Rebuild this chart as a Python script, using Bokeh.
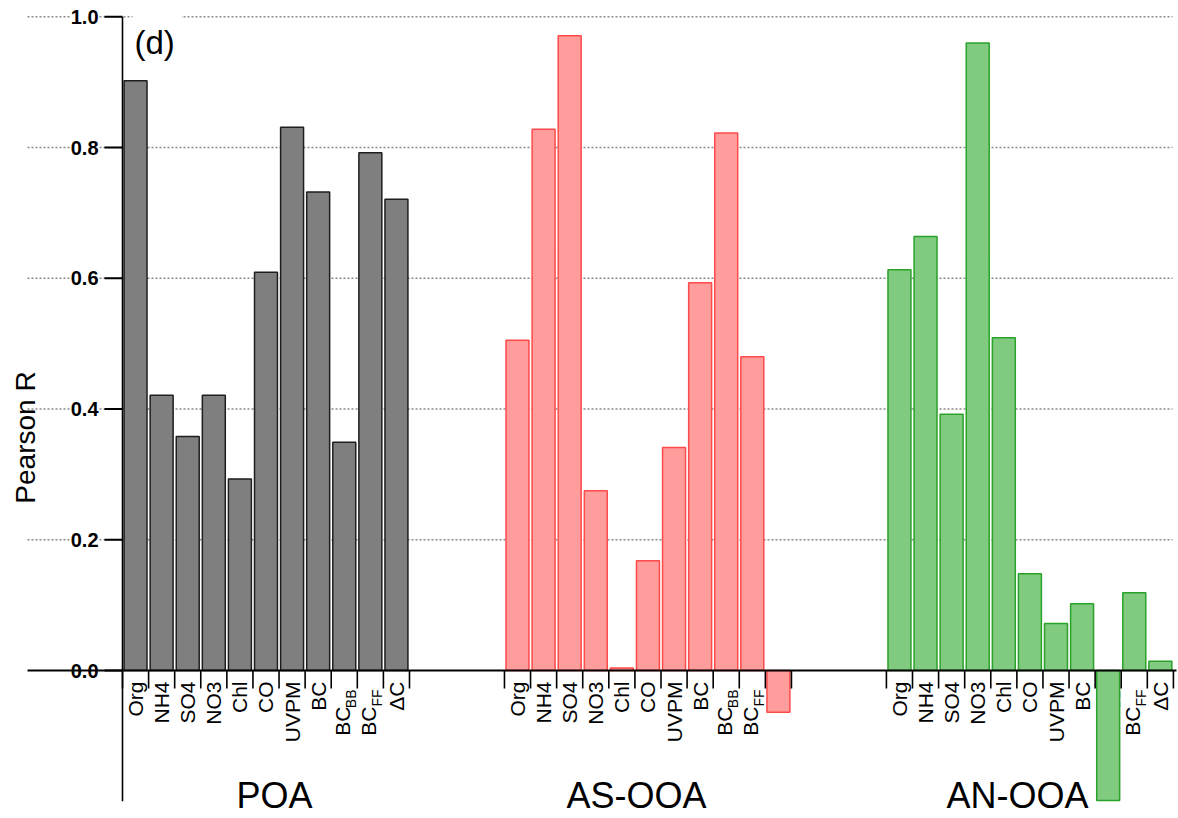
import math
from bokeh.plotting import figure
from bokeh.models import Range1d
from bokeh.core.properties import value
from bokeh.embed import file_html
from bokeh.resources import INLINE

# ---------------- data ----------------
categories = ["Org", "NH4", "SO4", "NO3", "Chl", "CO", "UVPM", "BC", "BC_BB", "BC_FF", "ΔC"]
groups = ["POA", "AS-OOA", "AN-OOA"]
poa_r = [0.902, 0.421, 0.358, 0.421, 0.293, 0.609, 0.831, 0.732, 0.349, 0.792, 0.721]
as_ooa_r = [0.505, 0.828, 0.971, 0.275, 0.004, 0.168, 0.341, 0.593, 0.822, 0.480, -0.064]
an_ooa_r = [0.613, 0.664, 0.392, 0.960, 0.509, 0.148, 0.072, 0.102, -0.199, 0.119, 0.014]
y_ticks = [0.0, 0.2, 0.4, 0.6, 0.8, 1.0]
y_tick_labels = ["0.0", "0.2", "0.4", "0.6", "0.8", "1.0"]
y_axis_min = -0.2

# ---------------- layout ----------------
W, H = 1178, 818
CW = 26.09          # pixels per category
X0 = 122            # pixel of the y axis
Y0 = 670            # pixel of zero
YU = 653.75         # pixels per unit of R
group_start = [0.0, 14.64, 29.28]
group_label_px = [274, 636, 1017]

def px2x(px):
    return (px - X0) / CW

def px2y(py):
    return (Y0 - py) / YU

FONT = value("Liberation Sans")

p = figure(width=W, height=H,
           x_range=Range1d(px2x(0), px2x(W)), y_range=Range1d(px2y(H), px2y(0)),
           x_axis_type=None, y_axis_type=None,
           output_backend="svg", toolbar_location=None,
           min_border=0, outline_line_color=None)
p.grid.visible = False
p.background_fill_color = "white"
p.border_fill_color = "white"

# dotted grid lines
grid_vals = [t for t in y_ticks if t != 0]
p.segment(x0=[px2x(27)] * len(grid_vals), x1=[px2x(1172)] * len(grid_vals),
          y0=grid_vals, y1=grid_vals, line_color="#8a8a8a", line_width=1.3, line_dash="2 2")

# white box behind panel letter
p.quad(left=[px2x(132)], right=[px2x(181)], top=[px2y(10)], bottom=[px2y(64)],
       fill_color="white", line_color=None)
p.text(x=[px2x(134)], y=[px2y(42)], text=["(d)"], text_font=FONT, text_font_size="33px",
       text_align="left", text_baseline="middle", text_color="black")

# y tick labels
p.text(x=[px2x(98)] * len(y_ticks), y=y_ticks, text=y_tick_labels, text_font=FONT,
       text_font_size="20px", text_font_style="bold", text_align="right",
       text_baseline="middle", text_color="black", background_fill_color="white")

# y axis title
p.text(x=[px2x(25)], y=[px2y(437)], text=["Pearson R"], angle=math.pi / 2,
       text_font=FONT, text_font_size="28px", text_align="center",
       text_baseline="middle", text_color="black")

series = [poa_r, as_ooa_r, an_ooa_r]
fills = ["#7f7f7f", "#ff9c9c", "#80cb80"]
lines = ["#1e1e1e", "#ff4a4a", "#2aa22a"]

for g, (start, vals) in enumerate(zip(group_start, series)):
    centers = [start + i + 0.5 for i in range(len(categories))]
    # category labels (drawn beneath bars)
    plain_x, plain_t = [], []
    sub_main_x, sub_main_t, sub_x, sub_t = [], [], [], []
    for c, name in zip(centers, categories):
        if "_" in name:
            m, s = name.split("_")
            sub_main_x.append(c - 2 / CW)
            sub_main_t.append(m)
            sub_x.append(c + 7 / CW)
            sub_t.append(s)
        else:
            plain_x.append(c)
            plain_t.append(name)
    p.text(x=plain_x, y=[px2y(681)] * len(plain_x), text=plain_t, angle=math.pi / 2,
           text_font=FONT, text_font_size="21px", text_align="right",
           text_baseline="middle", text_color="black")
    p.text(x=sub_main_x, y=[px2y(706)] * len(sub_main_x), text=sub_main_t, angle=math.pi / 2,
           text_font=FONT, text_font_size="21px", text_align="right",
           text_baseline="middle", text_color="black")
    p.text(x=sub_x, y=[px2y(689)] * len(sub_x), text=sub_t, angle=math.pi / 2,
           text_font=FONT, text_font_size="14px", text_align="right",
           text_baseline="middle", text_color="black")
    # bars
    p.vbar(x=centers, top=vals, bottom=0, width=0.88,
           fill_color=fills[g], line_color=lines[g], line_width=1.5)
    # category ticks
    edges = [start + i for i in range(len(categories) + 1)]
    p.segment(x0=edges, x1=edges, y0=[0] * len(edges), y1=[px2y(688)] * len(edges),
              line_color="black", line_width=1.6)

# group labels
p.text(x=[px2x(v) for v in group_label_px], y=[px2y(795)] * 3, text=groups,
       text_font=FONT, text_font_size="36px", text_align="center",
       text_baseline="middle", text_color="black")

# zero line
p.segment(x0=[px2x(27)], x1=[px2x(1176)], y0=[0], y1=[0], line_color="black", line_width=2)

# y axis line and ticks
p.segment(x0=[0], x1=[0], y0=[y_axis_min], y1=[max(y_ticks)], line_color="black", line_width=1.6)
p.segment(x0=[px2x(104)] * len(y_ticks), x1=[0] * len(y_ticks), y0=y_ticks, y1=y_ticks,
          line_color="black", line_width=2)

open("out.html", "w").write(file_html(p, INLINE))
